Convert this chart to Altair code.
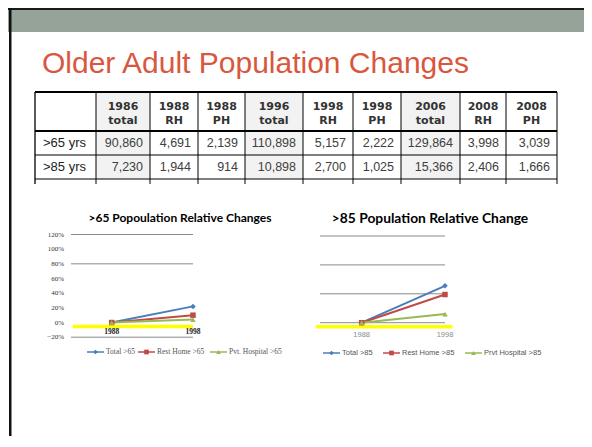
import altair as alt
import pandas as pd

# ---------------- data ----------------
slide_title = "Older Adult Population Changes"
row_labels = [">65 yrs", ">85 yrs"]
col_years = ["1986", "1988", "1988", "1996", "1998", "1998", "2006", "2008", "2008"]
col_kinds = ["total", "RH", "PH", "total", "RH", "PH", "total", "RH", "PH"]
values_65 = [90860, 4691, 2139, 110898, 5157, 2222, 129864, 3998, 3039]
values_85 = [7230, 1944, 914, 10898, 2700, 1025, 15366, 2406, 1666]

years = [1988, 1998]
year_labels = ["1988", "1998"]

title_65 = ">65 Popoulation Relative Changes"
series_65 = ["Total >65", "Rest Home >65", "Pvt. Hospital >65"]
total_65 = [0.0, 0.22]
rest_home_65 = [0.0, 0.10]
pvt_hospital_65 = [0.0, 0.04]
y_ticks_65 = [1.2, 1.0, 0.8, 0.6, 0.4, 0.2, 0.0, -0.2]
grid_65 = [1.2, 0.8, -0.2]

title_85 = ">85 Population Relative Change"
series_85 = ["Total >85", "Rest Home >85", "Prvt Hospital >85"]
total_85 = [0.0, 0.51]
rest_home_85 = [0.0, 0.39]
pvt_hospital_85 = [0.0, 0.12]
grid_85 = [1.2, 0.8, 0.4, 0.0]

highlight_level = -0.055

# ---------------- layout / style ----------------
W, H = 576, 428
COLORS = ["#4A7EBB", "#BE4B48", "#98B954"]
SHAPES = ["diamond", "square", "triangle-up"]
TEXT_DARK = "#333333"

col_w = [61, 54, 48, 47, 58, 50, 48, 59, 46, 51]
edges = [0]
for w in col_w:
    edges.append(edges[-1] + w)
row_edges = [0, 39, 63, 87]
TAIL = 92
row_centers = [51, 75]
tx = alt.Scale(domain=[0, edges[-1]], range=[27, 27 + edges[-1]])
ty = alt.Scale(domain=[0, TAIL], range=[84, 176])

# ---------------- slide decoration ----------------
one = pd.DataFrame({"k": [0]})
top_line = alt.Chart(one).mark_rect(color="#1a1a1a").encode(
    x=alt.value(0), x2=alt.value(W), y=alt.value(0), y2=alt.value(2))
band = alt.Chart(one).mark_rect(color="#95A398").encode(
    x=alt.value(0), x2=alt.value(W), y=alt.value(2), y2=alt.value(24))
left_border = alt.Chart(one).mark_rect(color="#111111").encode(
    x=alt.value(1), x2=alt.value(3.5), y=alt.value(0), y2=alt.value(H))
title = alt.Chart(pd.DataFrame({"t": [slide_title]})).mark_text(
    font="Liberation Sans", fontSize=30, color="#D9573E", align="left", baseline="alphabetic"
).encode(x=alt.value(34), y=alt.value(65), text="t:N")

# ---------------- table ----------------
shade_rows = []
for j, kind in enumerate(col_kinds, start=1):
    if kind == "total":
        shade_rows.append({"x0": edges[j], "x1": edges[j + 1], "y0": row_edges[0], "y1": row_edges[-1]})
shade = alt.Chart(pd.DataFrame(shade_rows)).mark_rect(color="#F2F2F2").encode(
    x=alt.X("x0:Q", scale=tx, axis=None), x2="x1:Q",
    y=alt.Y("y0:Q", scale=ty, axis=None), y2="y1:Q")

rule_rows = []
for yv, wv in zip(row_edges, [2.2, 2.2, 1, 1]):
    rule_rows.append({"a": 0, "b": edges[-1], "c": yv, "d": yv, "w": wv})
for e in edges:
    rule_rows.append({"a": e, "b": e, "c": 0, "d": TAIL, "w": 1.3 if e == 0 else 1})
table_rules = alt.Chart(pd.DataFrame(rule_rows)).mark_rule(color="#000000").encode(
    x=alt.X("a:Q", scale=tx, axis=None), x2="b:Q",
    y=alt.Y("c:Q", scale=ty, axis=None), y2="d:Q",
    strokeWidth=alt.StrokeWidth("w:Q", scale=None))

hdr = pd.DataFrame({
    "xc": [(edges[j] + edges[j + 1]) / 2 for j in range(1, 10)],
    "year": col_years, "kind": col_kinds})
hdr_year = alt.Chart(hdr).mark_text(
    font="DejaVu Sans", fontWeight="bold", fontSize=11, color=TEXT_DARK, baseline="alphabetic"
).encode(x=alt.X("xc:Q", scale=tx, axis=None), y=alt.value(102), text="year:N")
hdr_kind = alt.Chart(hdr).mark_text(
    font="DejaVu Sans", fontWeight="bold", fontSize=11, color=TEXT_DARK, baseline="alphabetic"
).encode(x=alt.X("xc:Q", scale=tx, axis=None), y=alt.value(115.5), text="kind:N")

cell_rows = []
for yc, vals in zip(row_centers, [values_65, values_85]):
    for j, v in enumerate(vals, start=1):
        cell_rows.append({"xr": edges[j + 1] - 7, "yc": yc, "v": v})
cells = alt.Chart(pd.DataFrame(cell_rows)).mark_text(
    font="Liberation Sans", fontSize=12.5, color="#404040", align="right", baseline="middle"
).encode(x=alt.X("xr:Q", scale=tx, axis=None), y=alt.Y("yc:Q", scale=ty, axis=None),
         text=alt.Text("v:Q", format=","))

lab = pd.DataFrame({"x": [8, 8], "yc": row_centers, "label": row_labels})
row_lab = alt.Chart(lab).mark_text(
    font="Liberation Sans", fontSize=13, color="#222222", align="left", baseline="middle"
).encode(x=alt.X("x:Q", scale=tx, axis=None), y=alt.Y("yc:Q", scale=ty, axis=None), text="label:N")


# ---------------- line charts ----------------
def line_panel(series, vals, xs, ys, grid, tick_vals, x_from, x_to, hl_from, hl_to,
               title_txt, title_x, title_y, title_size, legend_x, legend_y, xlab_y,
               small_font, small_color, xlab_color, xlab_weight):
    cscale = alt.Scale(domain=series, range=COLORS)
    sscale = alt.Scale(domain=series, range=SHAPES)
    layers = []
    gdf = pd.DataFrame({"v": grid, "a": x_from, "b": x_to})
    layers.append(alt.Chart(gdf).mark_rule(color="#8A8A8A", strokeWidth=1).encode(
        x=alt.X("a:Q", scale=xs, axis=None), x2="b:Q", y=alt.Y("v:Q", scale=ys, axis=None)))
    hdf = pd.DataFrame({"v": [highlight_level], "a": hl_from, "b": hl_to})
    layers.append(alt.Chart(hdf).mark_rule(color="#FFFF00", strokeWidth=3.5).encode(
        x=alt.X("a:Q", scale=xs, axis=None), x2="b:Q", y=alt.Y("v:Q", scale=ys, axis=None)))
    if tick_vals:
        tdf = pd.DataFrame({"v": tick_vals})
        layers.append(alt.Chart(tdf).mark_text(
            font=small_font, fontSize=7, color=small_color, align="right", baseline="middle"
        ).encode(x=alt.value(56), y=alt.Y("v:Q", scale=ys, axis=None),
                 text=alt.Text("v:Q", format=".0%")))
    xdf = pd.DataFrame({"yr": years, "lab": year_labels})
    layers.append(alt.Chart(xdf).mark_text(
        font=small_font, fontSize=7.5, fontWeight=xlab_weight, color=xlab_color, baseline="middle"
    ).encode(x=alt.X("yr:Q", scale=xs, axis=None), y=alt.value(xlab_y), text="lab:N"))
    rows = []
    for s, v in zip(series, vals):
        for yr, val in zip(years, v):
            rows.append({"series": s, "year": yr, "value": val})
    df = pd.DataFrame(rows)
    base = alt.Chart(df).encode(
        x=alt.X("year:Q", scale=xs, axis=None),
        y=alt.Y("value:Q", scale=ys, axis=None),
        color=alt.Color("series:N", scale=cscale, legend=None),
    )
    layers.append(base.mark_line(strokeWidth=2))
    layers.append(base.mark_point(filled=True, size=30, opacity=1).encode(
        shape=alt.Shape("series:N", scale=sscale, legend=None)))
    # key
    ldf = pd.DataFrame({"series": series, "lx": legend_x,
                        "lx2": [v + 17 for v in legend_x],
                        "lm": [v + 8.5 for v in legend_x],
                        "lt": [v + 19 for v in legend_x]})
    lc = alt.Chart(ldf)
    layers.append(lc.mark_rule(strokeWidth=1.5).encode(
        x=alt.X("lx:Q", scale=None), x2="lx2:Q", y=alt.value(legend_y),
        color=alt.Color("series:N", scale=cscale, legend=None)))
    layers.append(lc.mark_point(filled=True, size=22, opacity=1).encode(
        x=alt.X("lm:Q", scale=None), y=alt.value(legend_y),
        color=alt.Color("series:N", scale=cscale, legend=None),
        shape=alt.Shape("series:N", scale=sscale, legend=None)))
    layers.append(lc.mark_text(
        font=small_font, fontSize=7.5, color="#555555", align="left", baseline="middle"
    ).encode(x=alt.X("lt:Q", scale=None), y=alt.value(legend_y), text="series:N"))
    tdf2 = pd.DataFrame({"t": [title_txt]})
    layers.append(alt.Chart(tdf2).mark_text(
        font="Lato", fontWeight="bold", fontSize=title_size, color="#000000", baseline="alphabetic"
    ).encode(x=alt.value(title_x), y=alt.value(title_y), text="t:N"))
    return layers


xs1 = alt.Scale(domain=[1983, 1998], range=[63, 185], zero=False, nice=False)
ys1 = alt.Scale(domain=[-0.2, 1.2], range=[329.2, 226.5], zero=False, nice=False)
xs2 = alt.Scale(domain=[1983, 1998], range=[312, 437], zero=False, nice=False)
ys2 = alt.Scale(domain=[0, 1.2], range=[314.7, 228], zero=False, nice=False)

panel1 = line_panel(series_65, [total_65, rest_home_65, pvt_hospital_65], xs1, ys1,
                    grid_65, y_ticks_65, 1983, 1998, 1983.2, 1998,
                    title_65, 172, 214, 12, [79, 130, 202], 344, 324,
                    "Liberation Serif", "#333333", "#222222", "bold")
panel2 = line_panel(series_85, [total_85, rest_home_85, pvt_hospital_85], xs2, ys2,
                    grid_85, [], 1983, 1998, 1982.5, 1998.9,
                    title_85, 422, 215, 13.8, [315, 375, 457], 345, 327,
                    "Liberation Sans", "#333333", "#8A8A8A", "normal")

layers = [top_line, band, left_border, title, shade, table_rules, hdr_year, hdr_kind,
          cells, row_lab] + panel1 + panel2

chart = alt.layer(*layers).resolve_scale(
    x="independent", y="independent", color="independent", shape="independent"
).properties(
    width=W, height=H, padding=0, autosize=alt.AutoSizeParams(type="none")
).configure_view(stroke=None)

chart.save("out.html", embed_options={"renderer": "svg", "actions": False})
